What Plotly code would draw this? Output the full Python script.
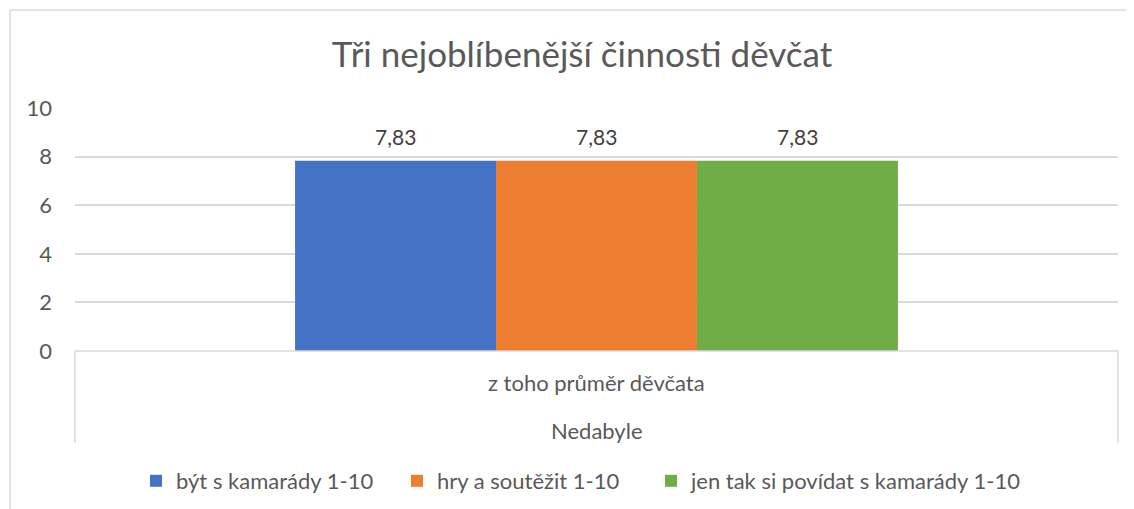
import plotly.graph_objects as go

title = "Tři nejoblíbenější činnosti děvčat"
category = ["z toho průměr děvčata"]
group_label = "Nedabyle"
series_names = ["být s kamarády 1-10", "hry a soutěžit 1-10", "jen tak si povídat s kamarády 1-10"]
series_values = [[7.83], [7.83], [7.83]]
colors = ["#4472C4", "#ED7D31", "#70AD47"]
y_ticks = [0, 2, 4, 6, 8, 10]

FONT = "Lato"
GREY = "#595959"
LINE = "#d9d9d9"

# page is offset by the default 8px body margin
OFF = 8
W, H = 1134 - OFF, 509 - OFF
PL, PR, PT, PB = 75, 1118, 108, 351          # plot area in page pixels
L, T = PL - OFF, PT - OFF
R, B = W - (PR - OFF), H - (PB - OFF)
pw, ph = W - L - R, H - T - B
BARGAP = 0.422
LEGEND_LEFT = [136, 397, 651]                 # page x of each legend entry box


def px(xp):
    return (xp - OFF - L) / pw


def py(yp):
    return (H - B - (yp - OFF)) / ph


fig = go.Figure()
legend_ids = ["legend", "legend2", "legend3"]
for name, vals, col, lid in zip(series_names, series_values, colors, legend_ids):
    fig.add_trace(go.Bar(
        x=category, y=vals, name=name, marker=dict(color=col, line=dict(width=0)),
        legend=lid,
    ))

bar_px = pw * (1 - BARGAP) / len(series_names)
annotations = []
for i, vals in enumerate(series_values):
    for cat, v in zip(category, vals):
        annotations.append(dict(
            text=f"{v:.2f}".replace(".", ","), x=cat, y=v, xref="x", yref="y",
            xshift=(i - (len(series_names) - 1) / 2) * bar_px, yshift=24,
            showarrow=False, yanchor="middle", xanchor="center",
            font=dict(size=21, color="#404040", family=FONT),
        ))

annotations += [
    dict(text=category[0], x=category[0], xref="x", y=py(382), yref="paper", showarrow=False,
         font=dict(size=22, color=GREY, family=FONT), xanchor="center", yanchor="middle"),
    dict(text=group_label, x=0.5, xref="paper", y=py(430), yref="paper", showarrow=False,
         font=dict(size=22, color=GREY, family=FONT), xanchor="center", yanchor="middle"),
]

lw = 1.5
shapes = [
    # category box
    dict(type="line", xref="paper", yref="paper", x0=0, x1=0, y0=0, y1=py(443), line=dict(color=LINE, width=lw)),
    dict(type="line", xref="paper", yref="paper", x0=1, x1=1, y0=0, y1=py(443), line=dict(color=LINE, width=lw)),
    dict(type="line", xref="paper", yref="paper", x0=0, x1=1, y0=0, y1=0, line=dict(color=LINE, width=lw)),
    # chart border
    dict(type="line", xref="paper", yref="paper", x0=px(10), x1=px(10), y0=py(10), y1=py(520), line=dict(color=LINE, width=lw)),
    dict(type="line", xref="paper", yref="paper", x0=px(10), x1=px(1140), y0=py(10), y1=py(10), line=dict(color=LINE, width=lw)),
]

legend_style = dict(orientation="h", xanchor="left", y=py(481), yanchor="middle",
                    bgcolor="rgba(0,0,0,0)",
                    font=dict(size=22, color=GREY, family=FONT))

fig.update_layout(
    width=W, height=H,
    margin=dict(l=L, r=R, t=T, b=B, autoexpand=False),
    paper_bgcolor="white", plot_bgcolor="white",
    separators=", ",
    title=dict(text=title, xref="container", x=(582 - OFF) / W, xanchor="center",
               y=1 - (55 - OFF) / H, yanchor="middle",
               font=dict(size=35, color=GREY, family=FONT)),
    barmode="group", bargap=BARGAP, bargroupgap=0,
    xaxis=dict(showticklabels=False, showgrid=False, zeroline=False, showline=False, ticks=""),
    yaxis=dict(range=[0, 10], tickvals=y_ticks, showgrid=True, gridcolor=LINE, gridwidth=lw,
               zeroline=False, showline=False, ticks="", ticklabelstandoff=22,
               tickfont=dict(size=22, color=GREY, family=FONT)),
    showlegend=True,
    legend=dict(x=px(LEGEND_LEFT[0]), **legend_style),
    legend2=dict(x=px(LEGEND_LEFT[1]), **legend_style),
    legend3=dict(x=px(LEGEND_LEFT[2]), **legend_style),
    shapes=shapes, annotations=annotations,
)

fig.write_html("out.html")
